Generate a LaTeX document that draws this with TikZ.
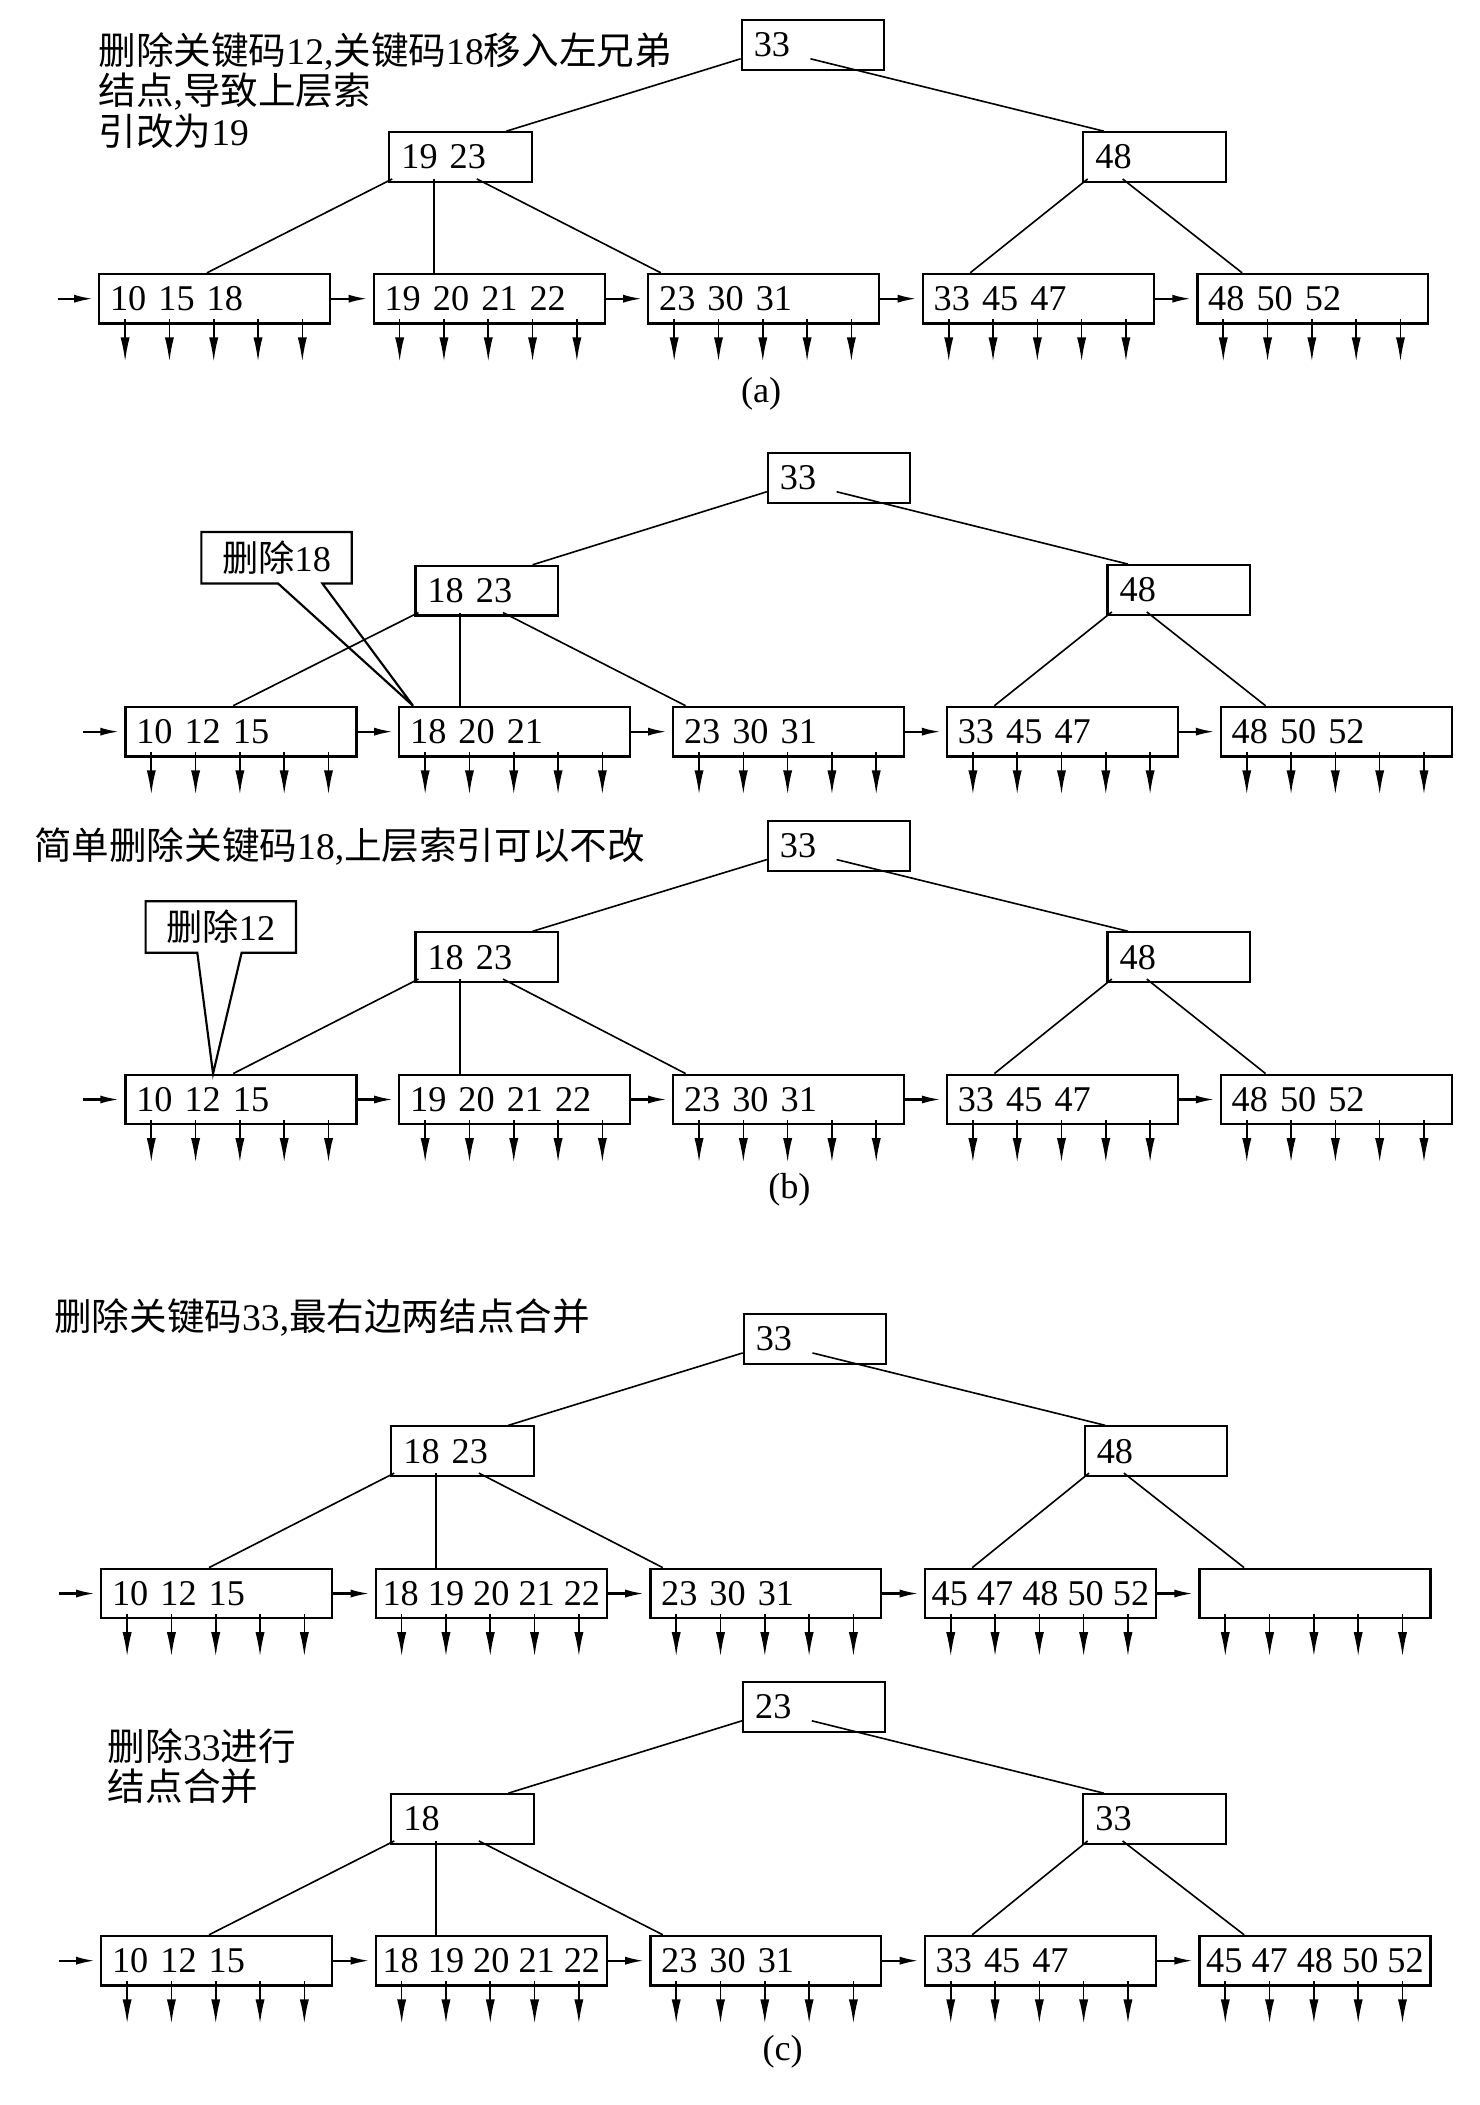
\documentclass[tikz,border=0pt]{standalone}
\usepackage{fontspec}
\setmainfont{Liberation Serif}
\newfontfamily\cjk{Noto Sans CJK SC}
\usetikzlibrary{arrows.meta,positioning,calc,shapes.callouts}
\newcommand{\zh}[1]{{\cjk #1}}

\begin{document}
\begin{tikzpicture}[
  x=0.5pt,
  y=-0.5pt,
  every node/.style={font=\fontsize{13.5}{15}\selectfont},
  index/.style={
    draw,
    line width=0.8pt,
    minimum height=18.5pt,
    text width=44pt,
    inner xsep=4.5pt,
    inner ysep=0pt,
    align=left
  },
  leaf/.style={
    draw,
    line width=0.8pt,
    minimum height=18.5pt,
    text width=78pt,
    inner xsep=4pt,
    inner ysep=0pt,
    align=left
  },
  wide/.style={
    draw,
    line width=0.8pt,
    minimum width=86pt,
    minimum height=18.5pt,
    inner xsep=2pt,
    inner ysep=0pt
  },
  note/.style={
    rectangle callout,
    draw,
    line width=0.8pt,
    minimum width=56pt,
    minimum height=19pt,
    callout pointer width=16.5pt
  },
  caption/.style={align=left, inner sep=0pt, font=\fontsize{14}{15}\selectfont},
  edge/.style={line width=0.6pt},
  link/.style={-{Latex[length=7pt,width=3pt]}, line width=0.8pt, shorten >=2pt},
  ptr/.style={-{Latex[length=9pt,width=3.4pt]}, line width=0.6pt}
]
\useasboundingbox (0,0) rectangle (1102,1568);

% (a)
\node[caption, anchor=north west] (a-note) at (73,24) {\zh{删除关键码}12,\zh{关键码}18\zh{移入左兄弟}\\\zh{结点},\zh{导致上层索}\\\zh{引改为}19};
\node[index] (a-root) at (605.5,33.5) {33};
\node[index] (a-l) at (343,117) {19 23};
\node[index] (a-r) at (860,117) {48};
\node[leaf] (a-1) at (160,222.5) {10 15 18};
\node[leaf] (a-2) at (364.5,222.5) {19 20 21 22};
\node[leaf] (a-3) at (569,222.5) {23 30 31};
\node[leaf] (a-4) at (773.5,222.5) {33 45 47};
\node[leaf] (a-5) at (978,222.5) {48 50 52};
\coordinate (a-0) at (43,222.5);
\node (a-cap) at (567,293) {(a)};

% (b)
\node[index] (b-root) at (625,356) {33};
\node[index] (b-l) at (362.5,440) {18 23};
\node[index] (b-r) at (878,439.5) {48};
\node[leaf] (b-1) at (179.5,545) {10 12 15};
\node[leaf] (b-2) at (383.5,545) {18 20 21};
\node[leaf] (b-3) at (587.5,545) {23 30 31};
\node[leaf] (b-4) at (791.5,545) {33 45 47};
\node[leaf] (b-5) at (995.5,545) {48 50 52};
\coordinate (b-0) at (62,545);
\node[note, callout absolute pointer={([xshift=5.5pt]b-2.north west)}] (b-del) at (206,415.5) {\zh{删除}18};

\node[caption, anchor=north west] (c-note) at (25,616) {\zh{简单删除关键码}18,\zh{上层索引可以不改}};
\node[index] (c-root) at (625,630) {33};
\node[index] (c-l) at (362.5,713) {18 23};
\node[index] (c-r) at (878,713) {48};
\node[leaf] (c-1) at (179.5,819) {10 12 15};
\node[leaf] (c-2) at (383.5,819) {19 20 21 22};
\node[leaf] (c-3) at (587.5,819) {23 30 31};
\node[leaf] (c-4) at (791.5,819) {33 45 47};
\node[leaf] (c-5) at (995.5,819) {48 50 52};
\coordinate (c-0) at (62,819);
\node[note, callout absolute pointer={([xshift=33pt]c-1.north west)}] (c-del) at (164.5,690.5) {\zh{删除}12};
\node (b-cap) at (588,886) {(b)};

% (c)
\node[caption, anchor=west] (d-note) at (40,981) {\zh{删除关键码}33,\zh{最右边两结点合并}};
\node[index] (d-root) at (607,997.5) {33};
\node[index] (d-l) at (344.5,1081) {18 23};
\node[index] (d-r) at (861,1081) {48};
\node[leaf] (d-1) at (161.5,1187) {10 12 15};
\node[wide] (d-2) at (366,1187) {18 19 20 21 22};
\node[leaf] (d-3) at (570.5,1187) {23 30 31};
\node[wide] (d-4) at (775,1187) {45 47 48 50 52};
\node[leaf] (d-5) at (979.5,1187) {};
\coordinate (d-0) at (44,1187);

\node[caption, anchor=north west] (e-note) at (80,1287) {\zh{删除}33\zh{进行}\\\zh{结点合并}};
\node[index] (e-root) at (606.5,1271.5) {23};
\node[index] (e-l) at (344.5,1355) {18};
\node[index] (e-r) at (860,1355) {33};
\node[leaf] (e-1) at (161.5,1460.5) {10 12 15};
\node[wide] (e-2) at (366,1460.5) {18 19 20 21 22};
\node[leaf] (e-3) at (570.5,1460.5) {23 30 31};
\node[leaf] (e-4) at (775,1460.5) {33 45 47};
\node[wide] (e-5) at (979.5,1460.5) {45 47 48 50 52};
\coordinate (e-0) at (44,1460.5);
\node (c-cap) at (583,1528) {(c)};

% index edges, leaf chain and data pointers
\foreach \t in {a,b,c,d,e}{
  \draw[edge] ([yshift=4.5pt]\t-root.south west) -- ([xshift=44pt]\t-l.north west);
  \draw[edge] ([xshift=26pt,yshift=4.5pt]\t-root.south west) -- ([xshift=8pt]\t-r.north west);
  \coordinate (\t-mid) at ([xshift=17pt,yshift=1.5pt]\t-l.south west);
  \draw[edge] ([xshift=1.5pt,yshift=1.5pt]\t-l.south west) -- ([xshift=40.5pt]\t-1.north west);
  \draw[edge] (\t-mid) -- (\t-mid |- \t-2.north);
  \draw[edge] ([xshift=33pt,yshift=1.5pt]\t-l.south west) -- ([xshift=5pt]\t-3.north west);
  \draw[edge] ([xshift=2pt,yshift=1.5pt]\t-r.south west) -- ([xshift=18pt]\t-4.north west);
  \draw[edge] ([xshift=15pt,yshift=1.5pt]\t-r.south west) -- ([xshift=17pt]\t-5.north west);
  \draw[link] (\t-0) -- (\t-1);
  \draw[link] (\t-1) -- (\t-2);
  \draw[link] (\t-2) -- (\t-3);
  \draw[link] (\t-3) -- (\t-4);
  \draw[link] (\t-4) -- (\t-5);
  \foreach \i in {1,...,5}
    \foreach \k in {0,...,4}
      \draw[ptr] ([xshift=10pt+\k*16.5pt,yshift=2pt]\t-\i.south west) -- ++(0,31.5);
}

\end{tikzpicture}
\end{document}
